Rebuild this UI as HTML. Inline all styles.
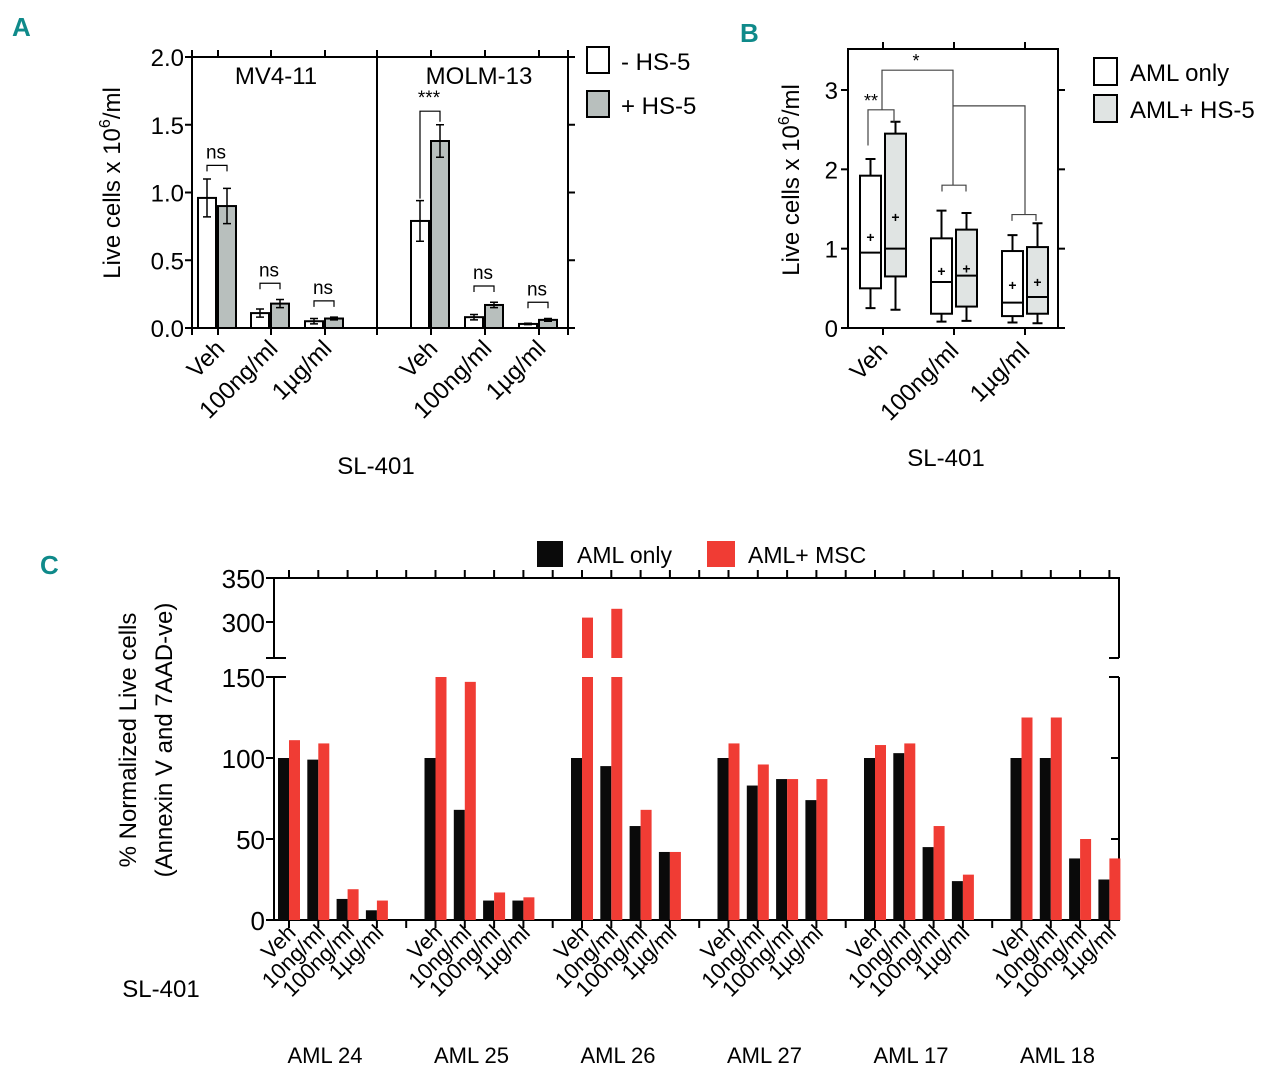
<!DOCTYPE html>
<html><head><meta charset="utf-8">
<style>
html,body{margin:0;padding:0;background:#fff;}
svg{display:block;font-family:"Liberation Sans","DejaVu Sans",sans-serif;}
</style></head>
<body>
<svg id="fig" width="1280" height="1075" viewBox="0 0 1280 1075" xmlns="http://www.w3.org/2000/svg">
<text x="12" y="36" font-size="26" font-weight="bold" fill="#0f8a8a">A</text>
<text x="740" y="42" font-size="26" font-weight="bold" fill="#0f8a8a">B</text>
<text x="40" y="574" font-size="26" font-weight="bold" fill="#0f8a8a">C</text>
<g id="pa"></g>
<g id="pb"></g>
<g id="pc"></g>
</svg>
<script>
// ---------- Panel A data ----------
const aCategories = ["Veh","100ng/ml","1µg/ml"];
const aCellLines = ["MV4-11","MOLM-13"];
const aNoHS5 = [[0.96,0.11,0.05],[0.79,0.08,0.03]];
const aNoHS5Err = [[0.14,0.03,0.02],[0.15,0.02,0.005]];
const aHS5 = [[0.90,0.18,0.07],[1.38,0.17,0.06]];
const aHS5Err = [[0.13,0.03,0.01],[0.12,0.02,0.01]];
const aSig = [["ns","ns","ns"],["***","ns","ns"]];
const aTicks = [0.0,0.5,1.0,1.5,2.0];
// ---------- Panel B data ----------
const bCategories = ["Veh","100ng/ml","1µg/ml"];
const bMin = [[0.25,0.08,0.07],[0.23,0.09,0.06]];
const bQ1 = [[0.50,0.18,0.15],[0.65,0.27,0.18]];
const bMed = [[0.95,0.58,0.32],[1.00,0.66,0.39]];
const bQ3 = [[1.92,1.13,0.97],[2.45,1.24,1.02]];
const bMax = [[2.13,1.48,1.17],[2.60,1.45,1.32]];
const bMean = [[1.15,0.72,0.54],[1.40,0.75,0.58]];
const bTicks = [0,1,2,3];
// ---------- Panel C data ----------
const cGroups = ["AML 24","AML 25","AML 26","AML 27","AML 17","AML 18"];
const cDoses = ["Veh","10ng/ml","100ng/ml","1µg/ml"];
const cAmlOnly = [[100,99,13,6],[100,68,12,12],[100,95,58,42],[100,83,87,74],[100,103,45,24],[100,100,38,25]];
const cAmlMsc = [[111,109,19,12],[150,147,17,14],[305,315,68,42],[109,96,87,87],[108,109,58,28],[125,125,50,38]];
const cTicksLow = [0,50,100,150];
const cTicksHigh = [300,350];

const NS="http://www.w3.org/2000/svg";
function mk(parent,tag,attrs,text){const e=document.createElementNS(NS,tag);for(const k in attrs)e.setAttribute(k,attrs[k]);if(text!==undefined)e.textContent=text;parent.appendChild(e);return e;}

// ===== Panel A =====
(function(){
const g=document.getElementById('pa');
const L=192,R=568,T=57,B=328,D=377;
const y=v=>B-(v/2.0)*(B-T);
const catX=[[218,271,325],[431,485,539]];
const bw=18;
let e;
e=mk(g,'path',{d:`M${L},${T}H${R}V${B}H${L}Z M${D},${T}V${B}`,fill:'none',stroke:'#000','stroke-width':2});

aTicks.forEach(t=>{
  mk(g,'line',{x1:L-7,x2:L,y1:y(t),y2:y(t),stroke:'#000','stroke-width':2});
  mk(g,'line',{x1:R,x2:R+7,y1:y(t),y2:y(t),stroke:'#000','stroke-width':2});
  e=mk(g,'text',{x:L-8,y:y(t)+9,'font-size':24,'text-anchor':'end'},t.toFixed(1));
  
});
[L,D,R].forEach(x=>{mk(g,'line',{x1:x,x2:x,y1:B,y2:B+7,stroke:'#000','stroke-width':2});mk(g,'line',{x1:x,x2:x,y1:T-7,y2:T,stroke:'#000','stroke-width':2});});
aCellLines.forEach((cl,ci)=>{
  e=mk(g,'text',{x:ci?479:276,y:84,'font-size':24,'text-anchor':'middle'},cl);
  
  aCategories.forEach((c,k)=>{
    const cx=catX[ci][k];
    mk(g,'line',{x1:cx,x2:cx,y1:B,y2:B+7,stroke:'#000','stroke-width':2});
    mk(g,'line',{x1:cx,x2:cx,y1:T-7,y2:T,stroke:'#000','stroke-width':2});
    const vals=[aNoHS5[ci][k],aHS5[ci][k]],errs=[aNoHS5Err[ci][k],aHS5Err[ci][k]];
    vals.forEach((v,s)=>{
      const x0=s?cx:cx-bw-2;
      e=mk(g,'rect',{x:x0,y:y(v),width:bw,height:B-y(v),fill:s?'#b8bfbd':'#fff',stroke:'#000','stroke-width':2});
      
      const mx=x0+bw/2,hi=y(v+errs[s]),lo=y(Math.max(0,v-errs[s]));
      mk(g,'path',{d:`M${mx},${hi}V${lo}M${mx-4},${hi}H${mx+4}M${mx-4},${lo}H${mx+4}`,stroke:'#000','stroke-width':1.5,fill:'none'});
    });
    const x1=cx-bw/2-2,x2=cx+bw/2;
    let by,ly1,ly2;
    if(aSig[ci][k]==='***'){by=y(1.6);ly1=y(vals[0]+errs[0])-2;ly2=y(vals[1]+errs[1])-3;}
    else{by=y(Math.max(vals[0]+errs[0],vals[1]+errs[1])+(k===0?0.1:0.12));ly1=by+6;ly2=by+6;}
    mk(g,'path',{d:`M${x1},${ly1}V${by}H${x2}V${ly2}`,stroke:'#000','stroke-width':1.2,fill:'none'});
    e=mk(g,'text',{x:cx-2,y:by-7,'font-size':19,'text-anchor':'middle'},aSig[ci][k]);
    
    e=mk(g,'text',{x:cx+8,y:B+22,'font-size':24,'text-anchor':'end',transform:`rotate(-45 ${cx+8} ${B+22})`},c);
    
  });
});
e=mk(g,'text',{x:0,y:0,'font-size':24,'text-anchor':'middle',transform:'translate(120,183) rotate(-90)'});

e.innerHTML='Live cells x 10<tspan dy="-10" font-size="16">6</tspan><tspan dy="10">/ml</tspan>';
e=mk(g,'text',{x:376,y:474,'font-size':24,'text-anchor':'middle'},'SL-401');

e=mk(g,'rect',{x:587,y:47,width:22,height:26,fill:'#fff',stroke:'#000','stroke-width':2});

e=mk(g,'text',{x:621,y:70,'font-size':24},'- HS-5');

e=mk(g,'rect',{x:587,y:91,width:22,height:26,fill:'#b8bfbd',stroke:'#000','stroke-width':2});

e=mk(g,'text',{x:621,y:114,'font-size':24},'+ HS-5');

})();

// ===== Panel B =====
(function(){
const g=document.getElementById('pb');
const L=848,R=1058,T=49,B=328;
const y=v=>B-v*(B-90)/3;
const catX=[883,954,1025];
let e;
e=mk(g,'rect',{x:L,y:T,width:R-L,height:B-T,fill:'none',stroke:'#000','stroke-width':2});

bTicks.forEach(t=>{
  mk(g,'line',{x1:L-7,x2:L,y1:y(t),y2:y(t),stroke:'#000','stroke-width':2});
  mk(g,'line',{x1:R,x2:R+7,y1:y(t),y2:y(t),stroke:'#000','stroke-width':2});
  e=mk(g,'text',{x:L-10,y:y(t)+9,'font-size':24,'text-anchor':'end'},String(t));
  
});
bCategories.forEach((c,k)=>{
  const cx=catX[k];
  mk(g,'line',{x1:cx,x2:cx,y1:B,y2:B+7,stroke:'#000','stroke-width':2});
  mk(g,'line',{x1:cx,x2:cx,y1:T-7,y2:T,stroke:'#000','stroke-width':2});
  [0,1].forEach(s=>{
    const x0=s?cx+2:cx-23,w=21,mx=x0+w/2;
    mk(g,'path',{d:`M${mx},${y(bMax[s][k])}V${y(bQ3[s][k])}M${mx},${y(bQ1[s][k])}V${y(bMin[s][k])}M${mx-5},${y(bMax[s][k])}H${mx+5}M${mx-5},${y(bMin[s][k])}H${mx+5}`,stroke:'#000','stroke-width':2,fill:'none'});
    e=mk(g,'rect',{x:x0,y:y(bQ3[s][k]),width:w,height:y(bQ1[s][k])-y(bQ3[s][k]),fill:s?'#e0e4e3':'#fff',stroke:'#000','stroke-width':2});
    
    mk(g,'line',{x1:x0,x2:x0+w,y1:y(bMed[s][k]),y2:y(bMed[s][k]),stroke:'#000','stroke-width':2});
    e=mk(g,'text',{x:mx,y:y(bMean[s][k])+5,'font-size':14,'font-weight':'bold','text-anchor':'middle'},'+');
    
  });
  e=mk(g,'text',{x:cx+6,y:B+24,'font-size':24,'text-anchor':'end',transform:`rotate(-45 ${cx+6} ${B+24})`},c);
  
});
const sb='#444';
mk(g,'path',{d:`M868,${y(2.3)}V${y(2.75)}H894V${y(2.6)}`,stroke:sb,'stroke-width':1.2,fill:'none'});
e=mk(g,'text',{x:871,y:y(2.75)-3,'font-size':18,'text-anchor':'middle'},'**');

mk(g,'path',{d:`M882,${y(2.75)}V${y(3.25)}H953V${y(1.8)}M942,${y(1.72)}V${y(1.8)}H966V${y(1.72)}M953,${y(2.8)}H1025V${y(1.43)}M1012,${y(1.35)}V${y(1.43)}H1036V${y(1.35)}`,stroke:sb,'stroke-width':1.2,fill:'none'});
e=mk(g,'text',{x:916,y:y(3.25)-3,'font-size':18,'text-anchor':'middle'},'*');

e=mk(g,'text',{x:0,y:0,'font-size':24,'text-anchor':'middle',transform:'translate(799,180) rotate(-90)'});

e.innerHTML='Live cells x 10<tspan dy="-10" font-size="16">6</tspan><tspan dy="10">/ml</tspan>';
e=mk(g,'text',{x:946,y:466,'font-size':24,'text-anchor':'middle'},'SL-401');

e=mk(g,'rect',{x:1094,y:58,width:23,height:27,fill:'#fff',stroke:'#000','stroke-width':2});

e=mk(g,'text',{x:1130,y:81,'font-size':24},'AML only');

e=mk(g,'rect',{x:1094,y:95,width:23,height:27,fill:'#e0e4e3',stroke:'#000','stroke-width':2});

e=mk(g,'text',{x:1130,y:118,'font-size':24},'AML+ HS-5');

})();

// ===== Panel C =====
(function(){
const g=document.getElementById('pc');
const L=274,R=1119,B=920,T=578,BRK_LO=677,BRK_HI=658;
const yLow=v=>B-v*1.62;
const yHigh=v=>622-(v-300)*0.88;
const slot=k=>289+29.3*k;
const bw=11;
let e;
mk(g,'path',{d:`M${L},${B}H${R}V${BRK_LO}M${L},${B}V${BRK_LO}M${L},${BRK_HI}V${T}H${R}V${BRK_HI}`,stroke:'#000','stroke-width':2,fill:'none'});
mk(g,'path',{d:`M${L},${BRK_LO}h-8M${L},${BRK_LO}h12M${L},${BRK_HI}h-8M${L},${BRK_HI}h12M${R},${BRK_LO}h-10M${R},${BRK_HI}h-10`,stroke:'#000','stroke-width':2});
cTicksLow.forEach(t=>{
  mk(g,'line',{x1:L-8,x2:L,y1:yLow(t),y2:yLow(t),stroke:'#000','stroke-width':2});
  mk(g,'line',{x1:R-8,x2:R,y1:yLow(t),y2:yLow(t),stroke:'#000','stroke-width':2});
  e=mk(g,'text',{x:L-9,y:yLow(t)+10,'font-size':26,'text-anchor':'end'},String(t));
  
});
cTicksHigh.forEach(t=>{
  mk(g,'line',{x1:L-8,x2:L,y1:yHigh(t),y2:yHigh(t),stroke:'#000','stroke-width':2});
  e=mk(g,'text',{x:L-9,y:yHigh(t)+10,'font-size':26,'text-anchor':'end'},String(t));
  
});
for(let k=0;k<29;k++){
  mk(g,'line',{x1:slot(k),x2:slot(k),y1:B,y2:B+8,stroke:'#000','stroke-width':2});
  mk(g,'line',{x1:slot(k),x2:slot(k),y1:T-8,y2:T,stroke:'#000','stroke-width':2});
}
function drawBar(x,v,color,name){
  if(v<=150){
    e=mk(g,'rect',{x:x,y:yLow(v),width:bw,height:B-yLow(v),fill:color});
  }else{
    e=mk(g,'rect',{x:x,y:yLow(150),width:bw,height:B-yLow(150),fill:color});
    if(v>260){
      const e2=mk(g,'rect',{x:x,y:yHigh(v),width:bw,height:BRK_HI-yHigh(v),fill:color});
      
    }
  }
  
}
cGroups.forEach((grp,gi)=>{
  cDoses.forEach((d,di)=>{
    const cx=slot(gi*5+di);
    drawBar(cx-bw,cAmlOnly[gi][di],'#0a0a0a','bar-aml-only');
    drawBar(cx,cAmlMsc[gi][di],'#f03c34','bar-aml-msc');
    e=mk(g,'text',{x:cx+8,y:B+14,'font-size':22,'text-anchor':'end',transform:`rotate(-45 ${cx+8} ${B+14})`},d);
    
  });
  e=mk(g,'text',{x:slot(gi*5)+36,y:1063,'font-size':22,'text-anchor':'middle'},grp);
  
});
e=mk(g,'text',{x:0,y:0,'font-size':24,'text-anchor':'middle',transform:'translate(136,740) rotate(-90)'},'% Normalized Live cells');

e=mk(g,'text',{x:0,y:0,'font-size':24,'text-anchor':'middle',transform:'translate(172,740) rotate(-90)'},'(Annexin V and 7AAD-ve)');

e=mk(g,'text',{x:161,y:997,'font-size':24,'text-anchor':'middle'},'SL-401');

e=mk(g,'rect',{x:537,y:541,width:26,height:26,fill:'#0a0a0a'});

e=mk(g,'text',{x:577,y:563,'font-size':23},'AML only');

e=mk(g,'rect',{x:707,y:541,width:28,height:26,fill:'#f03c34'});

e=mk(g,'text',{x:748,y:563,'font-size':23},'AML+ MSC');

})();
</script>
</body></html>
